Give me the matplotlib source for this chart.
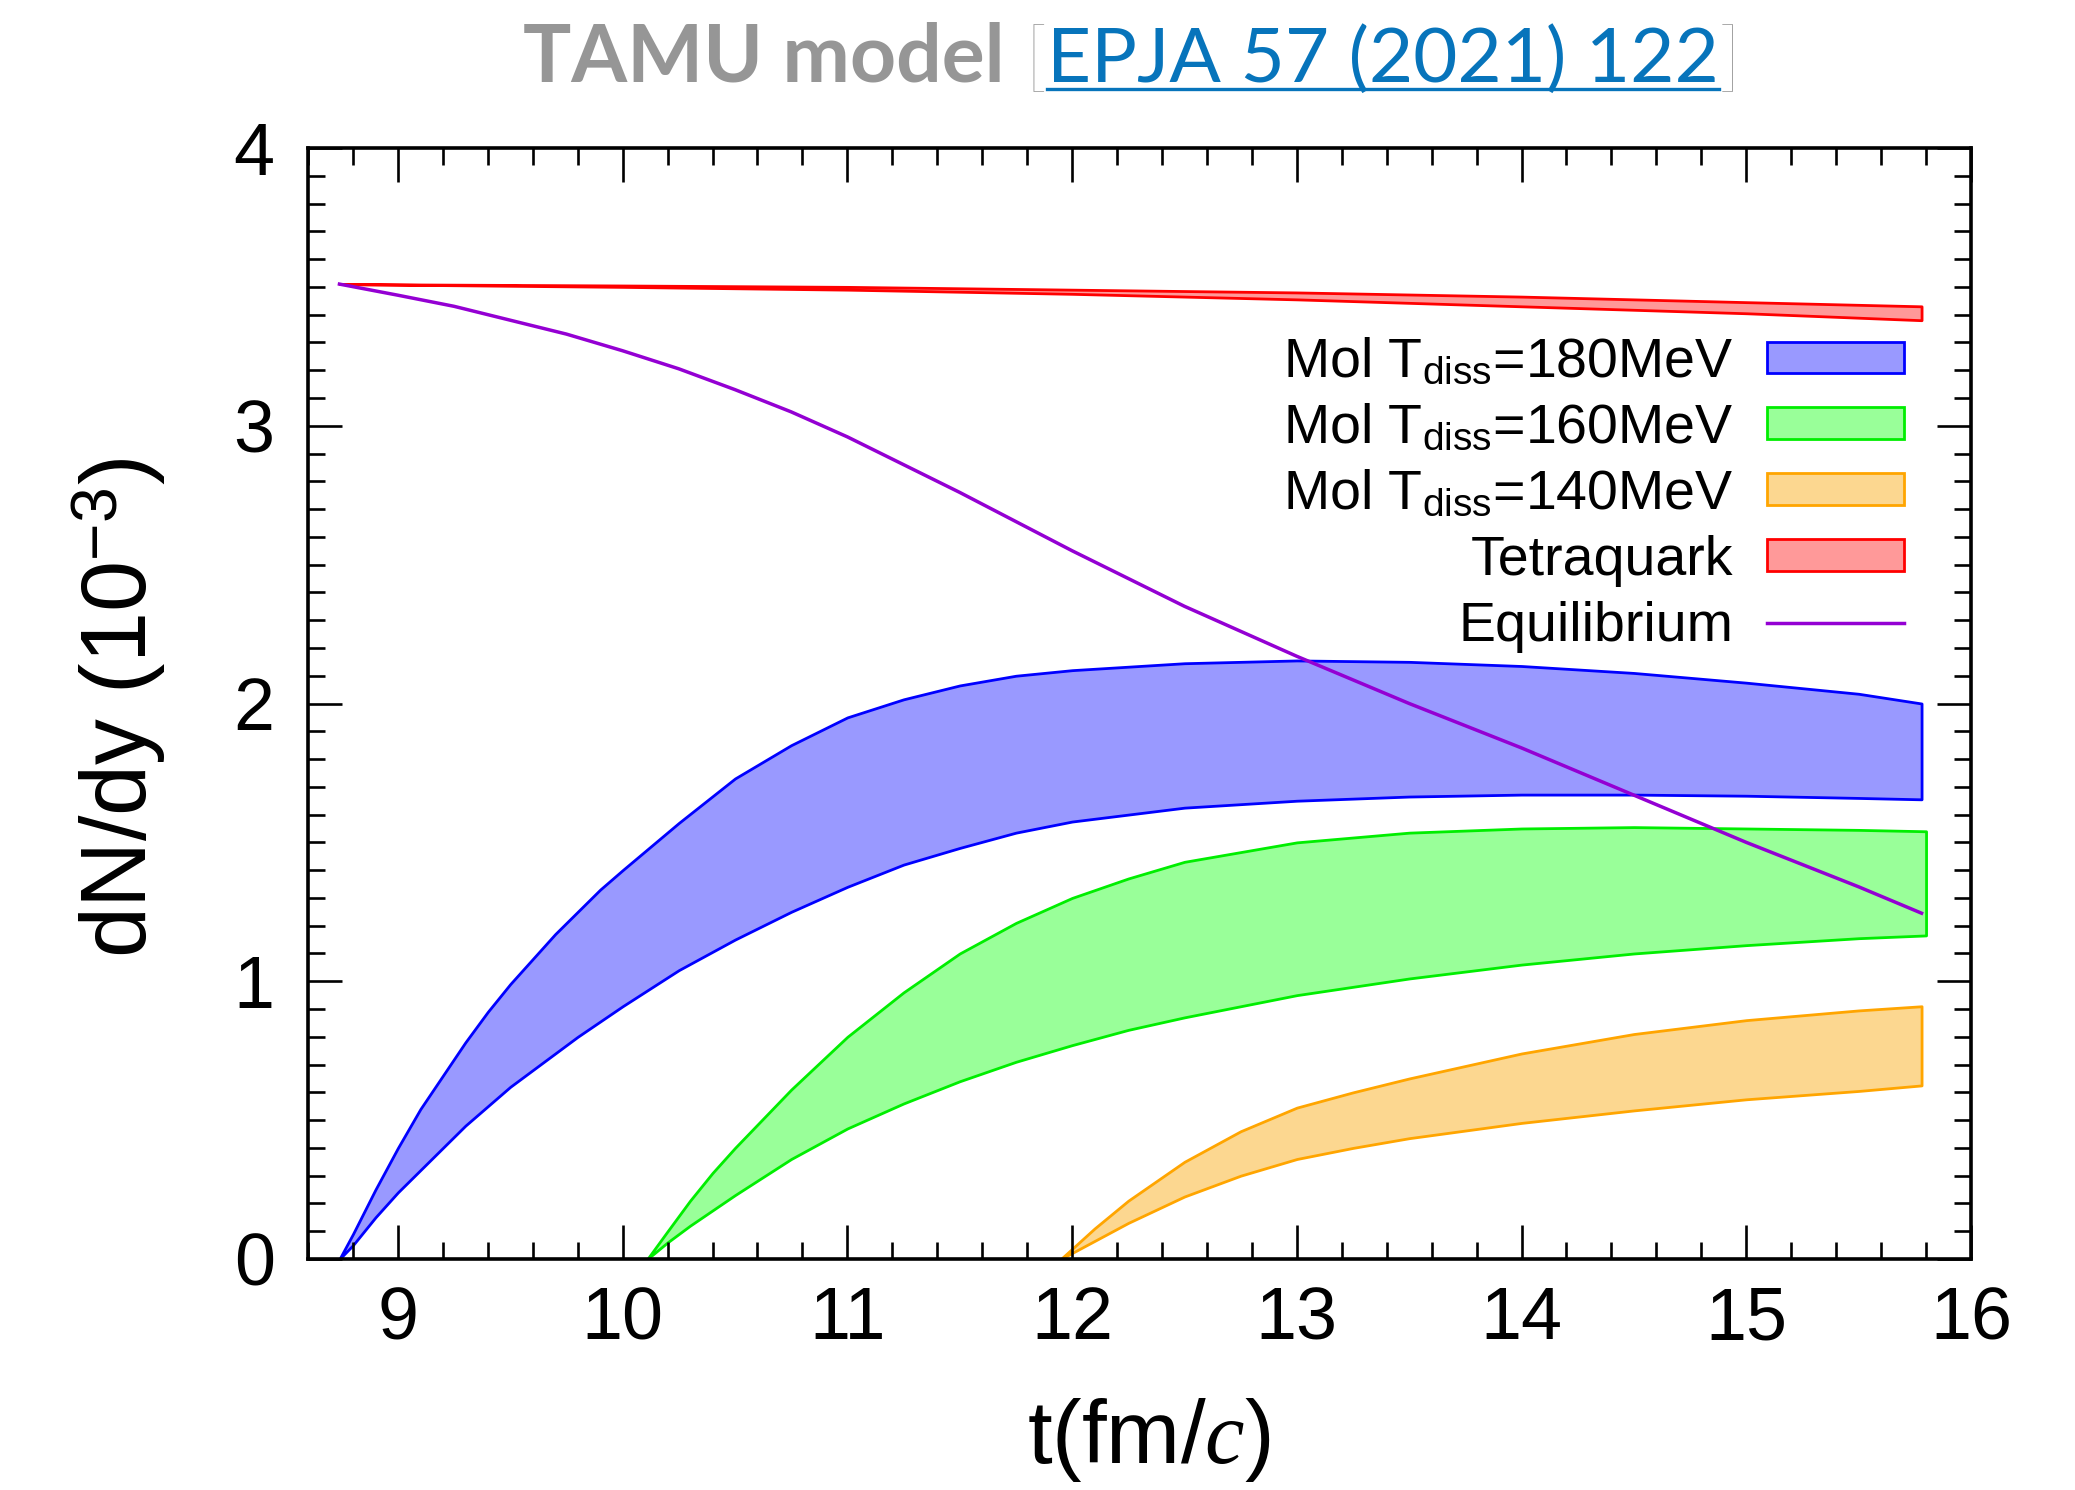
import numpy as np
import matplotlib
matplotlib.use("Agg")
import matplotlib.pyplot as plt
from matplotlib.patches import Patch
from matplotlib.lines import Line2D
from matplotlib.ticker import MultipleLocator

plt.rcParams['font.family'] = ['Liberation Sans', 'DejaVu Sans']
plt.rcParams['mathtext.fontset'] = 'custom'
plt.rcParams['mathtext.rm'] = 'Liberation Sans'
plt.rcParams['mathtext.it'] = 'Liberation Serif:italic'
plt.rcParams['mathtext.bf'] = 'Liberation Sans:bold'

# Molecule T_diss = 180 MeV band
t_blue = [8.74, 8.8, 8.9, 9.0, 9.1, 9.2, 9.3, 9.4, 9.5, 9.6, 9.7, 9.8, 9.9, 10.0, 10.25, 10.5,
          10.75, 11.0, 11.25, 11.5, 11.75, 12.0, 12.5, 13.0, 13.5, 14.0, 14.5, 15.0, 15.5, 15.78]
blue_hi = [0.0, 0.09, 0.25, 0.40, 0.54, 0.66, 0.78, 0.89, 0.99, 1.08, 1.17, 1.25, 1.33, 1.40,
           1.57, 1.73, 1.85, 1.95, 2.015, 2.065, 2.10, 2.12, 2.145, 2.155, 2.15, 2.135, 2.11,
           2.075, 2.035, 2.00]
blue_lo = [0.0, 0.05, 0.15, 0.24, 0.32, 0.40, 0.48, 0.55, 0.62, 0.68, 0.74, 0.80, 0.855, 0.91,
           1.04, 1.15, 1.25, 1.34, 1.42, 1.48, 1.535, 1.575, 1.625, 1.65, 1.665, 1.672, 1.672,
           1.668, 1.66, 1.655]

# Molecule T_diss = 160 MeV band
t_green = [10.11, 10.2, 10.3, 10.4, 10.5, 10.75, 11.0, 11.25, 11.5, 11.75, 12.0, 12.25, 12.5,
           13.0, 13.5, 14.0, 14.5, 15.0, 15.5, 15.8]
green_hi = [0.0, 0.10, 0.21, 0.31, 0.40, 0.61, 0.80, 0.96, 1.10, 1.21, 1.30, 1.37, 1.43,
            1.50, 1.535, 1.55, 1.555, 1.55, 1.545, 1.54]
green_lo = [0.0, 0.06, 0.12, 0.175, 0.23, 0.36, 0.47, 0.56, 0.64, 0.71, 0.77, 0.825, 0.87,
            0.95, 1.01, 1.06, 1.10, 1.13, 1.155, 1.165]

# Molecule T_diss = 140 MeV band
t_orange = [11.95, 12.1, 12.25, 12.5, 12.75, 13.0, 13.25, 13.5, 14.0, 14.5, 15.0, 15.5, 15.78]
orange_hi = [0.0, 0.11, 0.21, 0.35, 0.46, 0.545, 0.60, 0.65, 0.74, 0.81, 0.86, 0.895, 0.91]
orange_lo = [0.0, 0.065, 0.13, 0.225, 0.30, 0.36, 0.40, 0.435, 0.49, 0.535, 0.575, 0.605, 0.625]

# Tetraquark band
t_red = [8.74, 10.0, 11.0, 12.0, 13.0, 14.0, 15.0, 15.78]
red_hi = [3.51, 3.505, 3.50, 3.49, 3.48, 3.465, 3.445, 3.43]
red_lo = [3.51, 3.50, 3.49, 3.475, 3.455, 3.43, 3.405, 3.38]

# Equilibrium curve
t_eq = [8.74, 9.0, 9.25, 9.5, 9.75, 10.0, 10.25, 10.5, 10.75, 11.0, 11.25, 11.5, 11.75, 12.0,
        12.5, 13.0, 13.5, 14.0, 14.5, 15.0, 15.5, 15.78]
eq = [3.51, 3.47, 3.43, 3.38, 3.33, 3.27, 3.205, 3.13, 3.05, 2.96, 2.86, 2.76, 2.655, 2.55,
      2.35, 2.17, 2.00, 1.84, 1.67, 1.50, 1.34, 1.245]

labels = [r"Mol T$_{\rm diss}$=180MeV", r"Mol T$_{\rm diss}$=160MeV",
          r"Mol T$_{\rm diss}$=140MeV", "Tetraquark", "Equilibrium"]

W, H = 2075, 1490
fig = plt.figure(figsize=(W / 100, H / 100), dpi=100)
ax = fig.add_axes([308 / W, 1 - 1259 / H, (1971 - 308) / W, (1259 - 148) / H])

lw = 2.0
ax.fill_between(t_blue, blue_lo, blue_hi, facecolor='#9999ff', edgecolor='#0000ff', lw=lw)
ax.fill_between(t_green, green_lo, green_hi, facecolor='#99ff99', edgecolor='#00ee00', lw=lw)
ax.fill_between(t_orange, orange_lo, orange_hi, facecolor='#fcd790', edgecolor='#ffa500', lw=lw)
ax.fill_between(t_red, red_lo, red_hi, facecolor='#ff9999', edgecolor='#ff0000', lw=lw)
ax.plot(t_eq, eq, color='#9400d3', lw=2.5)

ax.set_xlim(8.6, 16)
ax.set_ylim(0, 4)
ax.xaxis.set_major_locator(MultipleLocator(1))
ax.xaxis.set_minor_locator(MultipleLocator(0.2))
ax.yaxis.set_major_locator(MultipleLocator(1))
ax.yaxis.set_minor_locator(MultipleLocator(0.1))
ax.tick_params(which='both', direction='in', top=True, right=True, width=1.9)
ax.tick_params(which='major', length=24.5, labelsize=53)
ax.tick_params(axis='x', which='major', pad=19)
ax.tick_params(axis='y', which='major', pad=24)
ax.tick_params(which='minor', length=12)
for s in ax.spines.values():
    s.set_linewidth(2.6)

ax.set_xlabel(r"t(fm/$c$)", fontsize=64, va='center')
ax.xaxis.set_label_coords(0.5055, -0.163)
ax.set_ylabel(r"dN/dy (10$^{-3}$)", fontsize=66, va='center')
ax.yaxis.set_label_coords(-0.1137, 0.496)

handles = [Patch(facecolor='#9999ff', edgecolor='#0000ff', lw=lw),
           Patch(facecolor='#99ff99', edgecolor='#00ee00', lw=lw),
           Patch(facecolor='#fcd790', edgecolor='#ffa500', lw=lw),
           Patch(facecolor='#ff9999', edgecolor='#ff0000', lw=lw),
           Line2D([], [], color='#9400d3', lw=2.5)]
ax.legend(handles, labels, loc='upper right', bbox_to_anchor=(0.9597, 0.8298),
          frameon=False, markerfirst=False, fontsize=40, handlelength=2.46,
          handleheight=0.5, handletextpad=0.61, labelspacing=0.25,
          borderpad=0, borderaxespad=0)

# title built from pieces: gray bold, gray brackets, blue underlined link
gray = '#969696'
blue = '#0774bb'
pieces = [("TAMU model ", gray, 'bold', 58), ("[", gray, 'light', 56),
          ("EPJA 57 (2021) 122", blue, 'normal', 55), ("]", gray, 'light', 56)]
fig.canvas.draw()
r = fig.canvas.get_renderer()
base_y = 1 - 82 / H
txts = []
x = 0
for s, c, wgt, fs in pieces:
    t = fig.text(x / W, base_y, s, color=c, fontsize=fs, fontweight=wgt,
                 family=['Lato', 'DejaVu Sans'], va='baseline', ha='left')
    bb = t.get_window_extent(r)
    txts.append((t, bb.width))
    x += bb.width
total = x
x0 = 1132 - total / 2
x = x0
link_span = None
for i, (t, w) in enumerate(txts):
    t.set_x(x / W)
    if i == 2:
        link_span = (x, x + w)
    x += w
fig.add_artist(Line2D([link_span[0] / W, link_span[1] / W], [1 - 89 / H, 1 - 89 / H],
                      color=blue, lw=2.4, transform=fig.transFigure))

fig.savefig("out.png", dpi=100)
